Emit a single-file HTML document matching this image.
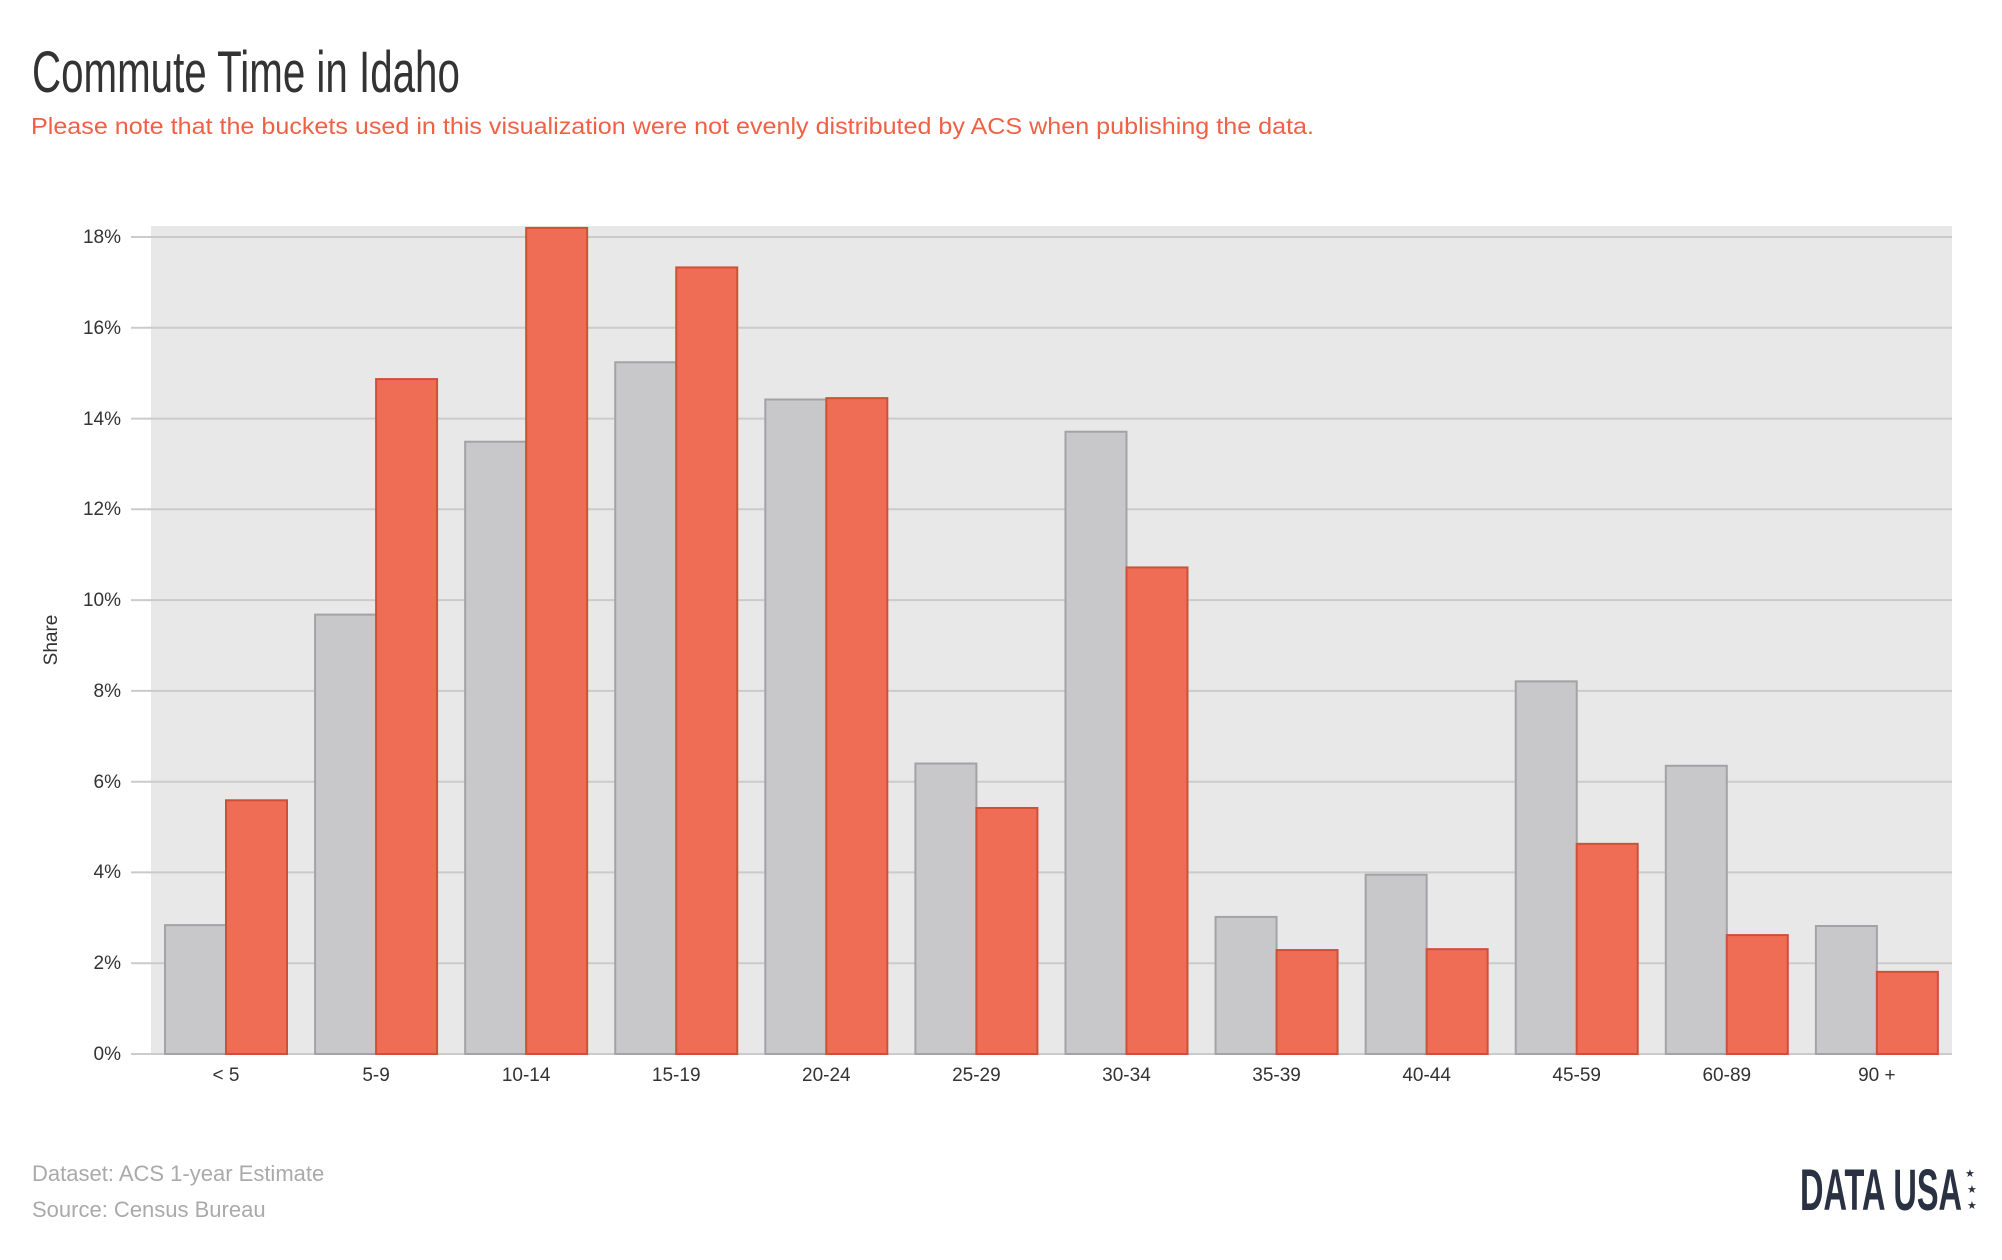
<!DOCTYPE html>
<html><head><meta charset="utf-8"><style>
html,body{margin:0;padding:0;background:#fff;}
body{width:2002px;height:1260px;overflow:hidden;position:relative;font-family:"Liberation Sans",sans-serif;}
</style></head><body>
<svg width="2002" height="1260" xmlns="http://www.w3.org/2000/svg" style="position:absolute;left:0;top:0">
<text x="32" y="92" font-family="Liberation Sans, sans-serif" font-size="58" fill="#333" transform="translate(32 0) scale(0.695 1) translate(-32 0)">Commute Time in Idaho</text>
<text x="31" y="134" font-family="Liberation Sans, sans-serif" font-size="23" fill="#ef6145" textLength="1283" lengthAdjust="spacingAndGlyphs">Please note that the buckets used in this visualization were not evenly distributed by ACS when publishing the data.</text>
<rect x="151" y="226" width="1801" height="828" fill="#e8e8e8"/>
<g stroke="#cbcbcb" stroke-width="2">
<line x1="131" x2="1952" y1="1054" y2="1054"/>
<line x1="131" x2="1952" y1="963.2" y2="963.2"/>
<line x1="131" x2="1952" y1="872.4" y2="872.4"/>
<line x1="131" x2="1952" y1="781.7" y2="781.7"/>
<line x1="131" x2="1952" y1="690.9" y2="690.9"/>
<line x1="131" x2="1952" y1="600.1" y2="600.1"/>
<line x1="131" x2="1952" y1="509.3" y2="509.3"/>
<line x1="131" x2="1952" y1="418.6" y2="418.6"/>
<line x1="131" x2="1952" y1="327.8" y2="327.8"/>
<line x1="131" x2="1952" y1="237" y2="237"/>
</g>
<g font-size="19" fill="#333" text-anchor="end" font-family="Liberation Sans, sans-serif">
<text x="121" y="1060">0%</text><text x="121" y="969">2%</text><text x="121" y="878">4%</text><text x="121" y="788">6%</text><text x="121" y="697">8%</text><text x="121" y="606">10%</text><text x="121" y="515">12%</text><text x="121" y="425">14%</text><text x="121" y="334">16%</text><text x="121" y="243">18%</text>
</g>
<text x="0" y="0" font-size="19" fill="#333" text-anchor="middle" transform="translate(57 640) rotate(-90)">Share</text>
<g id="bars"></g>
<g font-size="19" fill="#333" text-anchor="middle" id="xl"></g>
<text x="32" y="1181" font-size="22" fill="#aaa">Dataset: ACS 1-year Estimate</text>
<text x="32" y="1217" font-size="22" fill="#aaa">Source: Census Bureau</text>
<text x="1800" y="1210" font-size="58" font-weight="bold" fill="#2a3142" textLength="162" lengthAdjust="spacingAndGlyphs">DATA USA</text>
<g fill="#2a3142" font-size="11"><text x="1965" y="1177">★</text><text x="1967" y="1193">★</text><text x="1967" y="1209">★</text></g>
<script>
var d=[["< 5",2.84,5.59],["5-9",9.68,14.87],["10-14",13.49,18.2],["15-19",15.24,17.33],["20-24",14.42,14.45],["25-29",6.4,5.42],["30-34",13.71,10.72],["35-39",3.02,2.29],["40-44",3.95,2.31],["45-59",8.21,4.63],["60-89",6.35,2.62],["90 +",2.82,1.81]];
var ns="http://www.w3.org/2000/svg",b=document.getElementById("bars"),xl=document.getElementById("xl");
function r(x,y,w,h,f,s){var e=document.createElementNS(ns,"rect");e.setAttribute("x",x);e.setAttribute("y",y);e.setAttribute("width",w);e.setAttribute("height",h);e.setAttribute("fill",f);e.setAttribute("stroke",s);e.setAttribute("stroke-width","2");b.appendChild(e);}
var k=817/18;
d.forEach(function(v,i){var x0=151+i*150.08+14,w=61;
var h1=v[1]*k,h2=v[2]*k;
r(x0,1054-h1,w,h1,"#c8c8ca","#a3a3a6");
r(x0+w,1054-h2,w,h2,"#ef6c55","#cf5038");
var t=document.createElementNS(ns,"text");t.setAttribute("x",x0+w);t.setAttribute("y",1081);t.textContent=v[0];xl.appendChild(t);});
</script>
</svg>
</body></html>
